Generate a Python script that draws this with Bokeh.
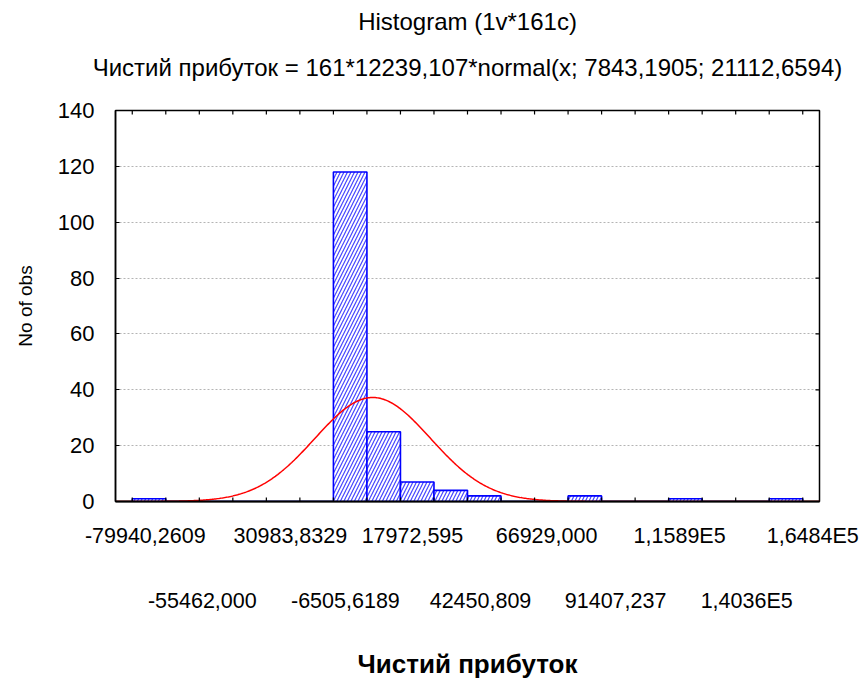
import numpy as np
from bokeh.plotting import figure
from bokeh.models import Range1d, FixedTicker, LinearAxis, ColumnDataSource, CustomJSTickFormatter
from bokeh.embed import file_html
from bokeh.resources import INLINE

# ---------------- data ----------------
title_line1 = "Histogram (1v*161c)"
title_line2 = "Чистий прибуток = 161*12239,107*normal(x; 7843,1905; 21112,6594)"
x_title = "Чистий прибуток"
y_title = "No of obs"

n_obs = 161
bin_start = -79940.2609
bin_width = 12239.107
counts = [1, 0, 0, 0, 0, 0, 118, 25, 7, 4, 2, 0, 0, 2, 0, 0, 1, 0, 0, 1]
fit_mean = 7843.1905
fit_sd = 21112.6594

label_values_row1 = [-79940.2609, -30983.8329, 17972.595, 66929.000, 115885.45, 164841.88]
label_text_row1 = ["-79940,2609", "30983,8329", "17972,595", "66929,000", "1,1589E5", "1,6484E5"]
label_values_row2 = [-55462.000, -6505.6189, 42450.809, 91407.237, 140363.66]
label_text_row2 = ["-55462,000", "-6505,6189", "42450,809", "91407,237", "1,4036E5"]
y_ticks = [0, 20, 40, 60, 80, 100, 120, 140]

# ---------------- derived ----------------
n_bins = len(counts)
lefts = [bin_start + i * bin_width for i in range(n_bins)]
rights = [l + bin_width for l in lefts]
edges = lefts + [rights[-1]]

x_lo = bin_start - bin_width / 2
x_hi = edges[-1] + bin_width / 2

FONT = "Liberation Sans"
W, H = 862, 682
ML, MR, MT, MB = 115, 43, 110, 181
frame_w = W - ML - MR
units_per_px = (x_hi - x_lo) / frame_w

p = figure(width=W, height=H,
           x_range=Range1d(x_lo, x_hi), y_range=Range1d(0, 140),
           output_backend="svg", toolbar_location=None,
           min_border_left=ML, min_border_right=MR,
           min_border_top=MT, min_border_bottom=MB)
p.background_fill_color = "white"
p.border_fill_color = "white"
p.outline_line_color = "black"
p.outline_line_width = 1.5

# grid
p.xgrid.visible = False
p.ygrid.grid_line_color = "#b4b4b4"
p.ygrid.grid_line_dash = "2 2"
p.ygrid.grid_line_width = 1

# bars
src = ColumnDataSource(dict(left=lefts, right=rights, top=counts, bottom=[0] * n_bins))
p.quad(left="left", right="right", top="top", bottom="bottom", source=src,
       fill_color="white", line_color="#0000ff", line_width=1.6,
       hatch_pattern="/", hatch_color="#4646ff", hatch_weight=1.2, hatch_scale=7)

# fitted normal curve (from the parameters printed in the subtitle)
xs = np.linspace(x_lo, x_hi, 600)
ys = n_obs * bin_width * np.exp(-0.5 * ((xs - fit_mean) / fit_sd) ** 2) / (fit_sd * np.sqrt(2 * np.pi))
p.line(xs, ys, line_color="#ff0000", line_width=1.5)

# inward tick marks on bottom/top (bin edges) and right (y ticks)
p.ray(x=edges, y=[0] * len(edges), length=4, length_units="screen", angle=np.pi / 2,
      line_color="black", line_width=1.2)
p.ray(x=edges, y=[140] * len(edges), length=4, length_units="screen", angle=-np.pi / 2,
      line_color="black", line_width=1.2)
p.ray(x=[x_hi] * len(y_ticks), y=y_ticks, length=4, length_units="screen", angle=np.pi,
      line_color="black", line_width=1.2)

# ---------------- axes ----------------
off1 = [13, 24, 12, 12, 11, 10]
off2 = [3, 12, 13, 14, 11]
pos1 = [v + o * units_per_px for v, o in zip(label_values_row1, off1)]
pos2 = [v + o * units_per_px for v, o in zip(label_values_row2, off2)]

def no_ticks(ax):
    ax.major_tick_in = 0
    ax.major_tick_out = 0
    ax.minor_tick_in = 0
    ax.minor_tick_out = 0

def label_axis(ax, ticks, texts, standoff):
    ax.ticker = FixedTicker(ticks=ticks, minor_ticks=[])
    ax.formatter = CustomJSTickFormatter(args=dict(labels=texts), code="return labels[index];")
    no_ticks(ax)
    ax.major_label_text_font = FONT
    ax.major_label_text_font_size = "21.5px"
    ax.major_label_text_color = "black"
    ax.major_label_standoff = standoff

xa = p.xaxis[0]
label_axis(xa, pos1, label_text_row1, 22)
xa.axis_line_color = "black"
xa.axis_line_width = 2

xb = LinearAxis()
label_axis(xb, pos2, label_text_row2, 38)
xb.axis_line_color = None
xb.axis_label = x_title
xb.axis_label_text_font = FONT
xb.axis_label_text_font_size = "26px"
xb.axis_label_text_font_style = "bold"
xb.axis_label_text_color = "black"
xb.axis_label_standoff = 33
p.add_layout(xb, "below")

ya = p.yaxis[0]
ya.ticker = FixedTicker(ticks=y_ticks, minor_ticks=[])
ya.major_tick_in = 4
ya.major_tick_out = 0
ya.minor_tick_in = 0
ya.minor_tick_out = 0
ya.axis_line_color = "black"
ya.axis_line_width = 1.5
ya.major_tick_line_color = "black"
ya.major_tick_line_width = 1.2
ya.major_label_text_font = FONT
ya.major_label_text_font_size = "22px"
ya.major_label_text_color = "black"
ya.major_label_standoff = 21
ya.axis_label = y_title
ya.axis_label_text_font = FONT
ya.axis_label_text_font_size = "19px"
ya.axis_label_text_font_style = "normal"
ya.axis_label_text_color = "black"
ya.axis_label_standoff = 19

# ---------------- titles (as labels of tick-less top axes) ----------------
def title_axis(text, standoff):
    ax = LinearAxis(ticker=FixedTicker(ticks=[], minor_ticks=[]))
    no_ticks(ax)
    ax.axis_line_color = None
    ax.major_label_standoff = 0
    ax.axis_label = text
    ax.axis_label_text_font = FONT
    ax.axis_label_text_font_size = "24px"
    ax.axis_label_text_font_style = "normal"
    ax.axis_label_text_color = "black"
    ax.axis_label_standoff = standoff
    p.add_layout(ax, "above")

title_axis(title_line2, 30)
title_axis(title_line1, 16)

open("out.html", "w").write(file_html(p, INLINE))
